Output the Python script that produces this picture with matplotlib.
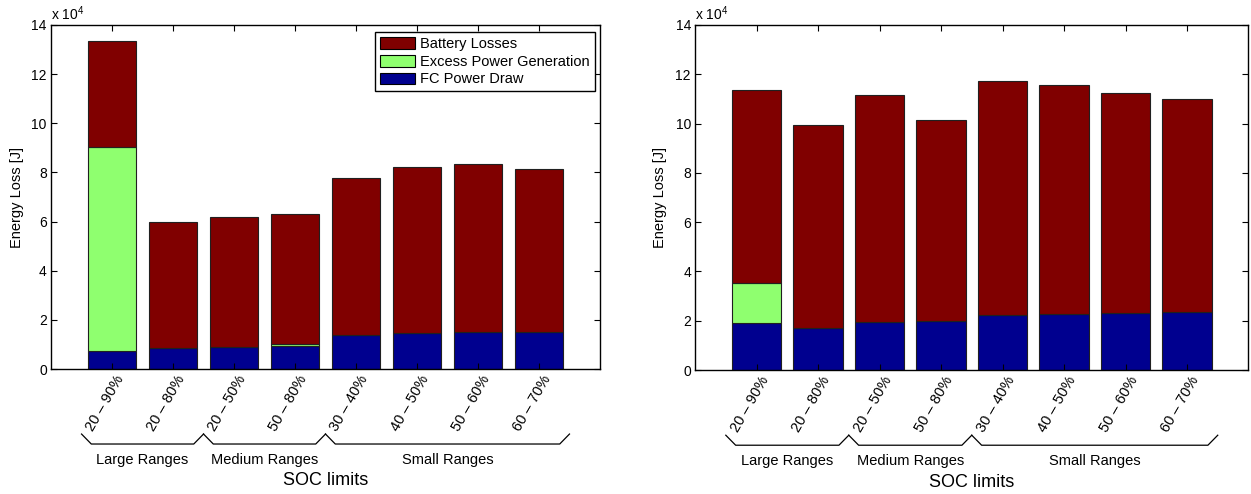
import numpy as np
import matplotlib.pyplot as plt
from matplotlib.patches import Patch

plt.rcParams['font.family'] = ['Liberation Sans', 'DejaVu Sans']
plt.rcParams['mathtext.fontset'] = 'custom'
plt.rcParams['mathtext.rm'] = 'Liberation Sans'

# SOC limit ranges (x categories)
soc_labels = ['20 – 90%', '20 – 80%', '20 – 50%', '50 – 80%',
              '30 – 40%', '40 – 50%', '50 – 60%', '60 – 70%']
groups = ['Large Ranges', 'Medium Ranges', 'Small Ranges']
group_edges = [0.5, 2.5, 4.5, 8.5]

# left panel, energy in J
fc_left = np.array([7450, 8400, 8900, 9200, 13700, 14500, 15000, 15000])
excess_left = np.array([83100, 0, 0, 800, 0, 0, 0, 0])
total_left = np.array([133600, 60000, 61700, 63100, 77900, 82100, 83500, 81300])

# right panel, energy in J
fc_right = np.array([18900, 17000, 19400, 20000, 22500, 22700, 23300, 23400])
excess_right = np.array([16300, 0, 0, 0, 0, 0, 0, 0])
total_right = np.array([113500, 99500, 111400, 101300, 117400, 115600, 112600, 109800])

c_batt = '#800000'
c_exc = '#8fff6f'
c_fc = '#00008f'

fig = plt.figure(figsize=(12.51, 4.94), dpi=100)
ax1 = fig.add_axes([0.0408, 0.2530, 0.4388, 0.6964])
ax2 = fig.add_axes([0.5556, 0.2510, 0.4424, 0.6984])


def draw(ax, fc, exc, total, legend=False):
    x = np.arange(1, len(soc_labels) + 1)
    s = 1e4
    batt = total - fc - exc
    kw = dict(width=0.8, edgecolor='#202020', linewidth=0.8)
    ax.bar(x, fc / s, color=c_fc, **kw)
    ax.bar(x, exc / s, bottom=fc / s, color=c_exc, **kw)
    ax.bar(x, batt / s, bottom=(fc + exc) / s, color=c_batt, **kw)
    ax.set_xlim(0, 9)
    ax.set_ylim(0, 14)
    ax.set_yticks(np.arange(0, 15, 2))
    ax.set_xticks(x)
    ax.set_xticklabels([])
    ax.tick_params(direction='in', top=True, right=True, length=4,
                   labelsize=10, width=0.8, pad=3)
    for sp in ax.spines.values():
        sp.set_linewidth(1.0)
    ax.text(0.0, 1.006, r'x 10$^{4}$', transform=ax.transAxes,
            fontsize=10, ha='left', va='bottom')
    ax.set_ylabel('Energy Loss [J]', fontsize=10.5)
    ax.yaxis.set_label_coords(-0.05, 0.5)

    tr = ax.get_xaxis_transform()
    for xi, lab in zip(x, soc_labels):
        ax.text(xi + 0.24, -0.012, lab, transform=tr, rotation=60,
                ha='right', va='top', fontsize=10.5)

    # brackets under the tick labels
    d = 0.16
    y_hi, y_lo = -0.189, -0.218
    for i, g in enumerate(groups):
        a, b = group_edges[i], group_edges[i + 1]
        ax.plot([a, a + d, b - d, b], [y_hi, y_lo, y_lo, y_hi], color='k',
                lw=0.9, transform=tr, clip_on=False)
        ax.text((a + b) / 2, -0.264, g, transform=tr, ha='center',
                va='center', fontsize=10.5)
    ax.text(4.5, -0.325, 'SOC limits', transform=tr, ha='center',
            va='center', fontsize=13)

    if legend:
        handles = [Patch(facecolor=c_batt, edgecolor='k', lw=0.8),
                   Patch(facecolor=c_exc, edgecolor='k', lw=0.8),
                   Patch(facecolor=c_fc, edgecolor='k', lw=0.8)]
        leg = ax.legend(handles, ['Battery Losses', 'Excess Power Generation',
                                  'FC Power Draw'],
                        loc='upper right', bbox_to_anchor=(1 - 5 / 549, 1 - 7 / 344),
                        borderaxespad=0, fancybox=False, framealpha=1,
                        edgecolor='k', fontsize=10.5, handlelength=2.4,
                        handleheight=0.85, handletextpad=0.35,
                        labelspacing=0.25, borderpad=0.35)
        leg.get_frame().set_linewidth(1.0)


draw(ax1, fc_left, excess_left, total_left, legend=True)
draw(ax2, fc_right, excess_right, total_right)

fig.savefig('out.png', dpi=100)
